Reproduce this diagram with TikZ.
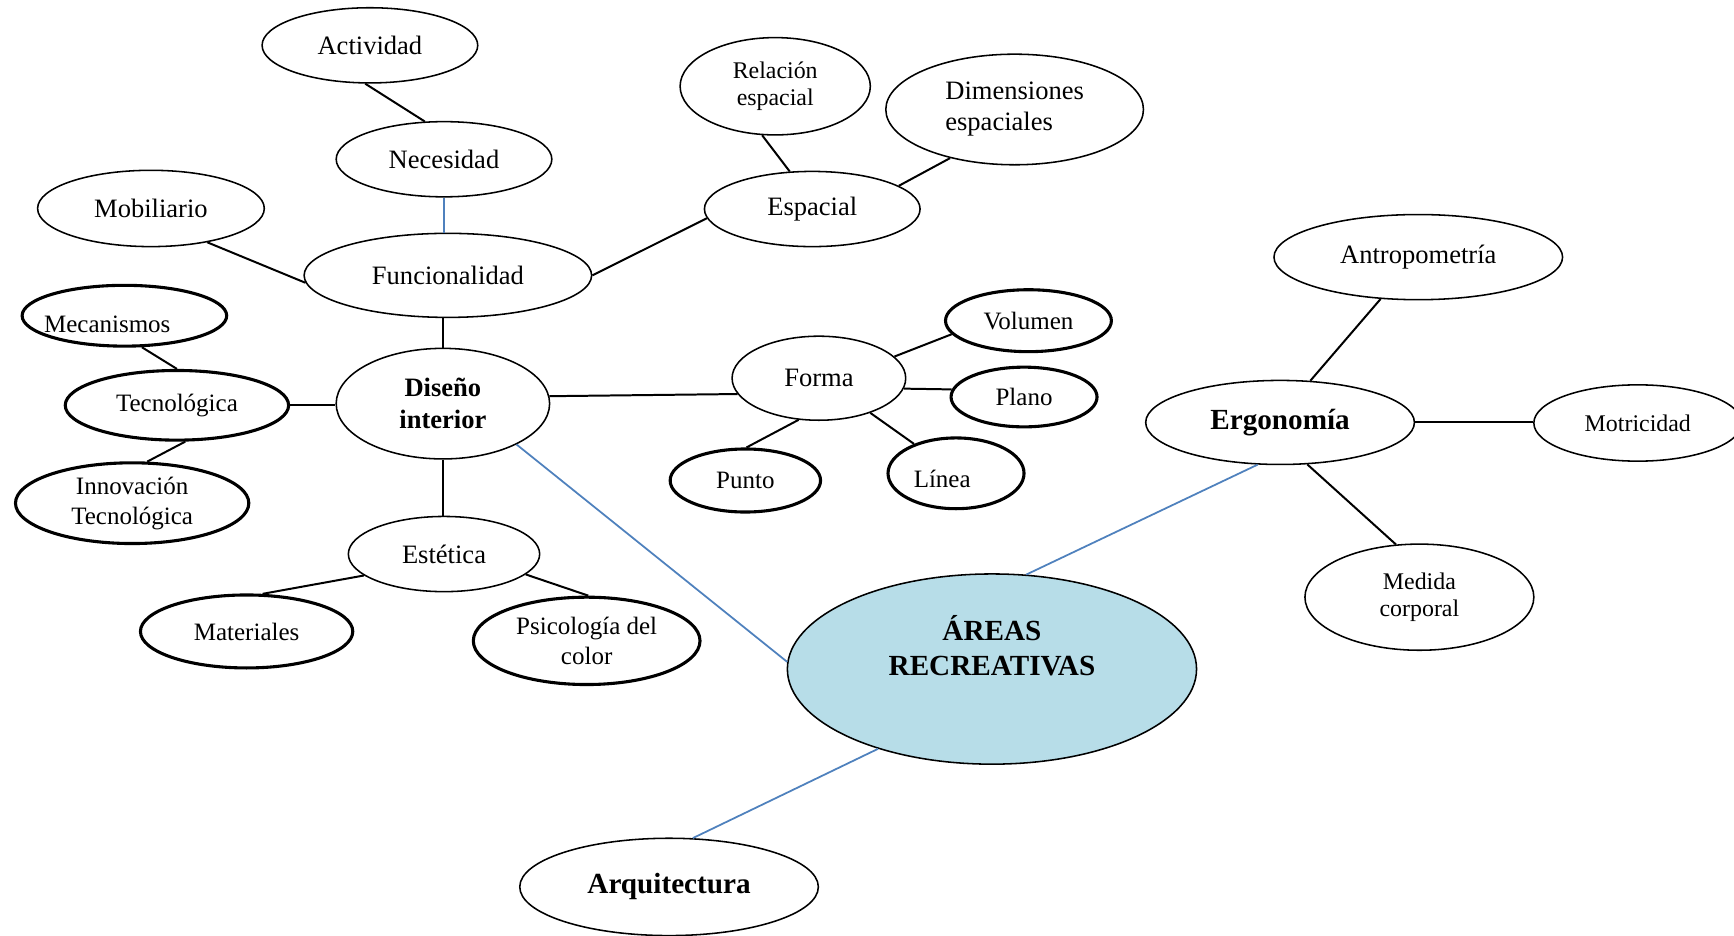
\documentclass[tikz,border=0pt]{standalone}
\usepackage{fontspec}
\setmainfont{Liberation Serif}
\usetikzlibrary{shapes.geometric}
\definecolor{azul}{RGB}{79,129,189}
\definecolor{celeste}{RGB}{183,221,232}

\begin{document}
\begin{tikzpicture}[
            x = 0.5pt, y = -0.5pt, % one unit = one pixel of the page, y downwards
            line width = 0.9pt, % line style
            every node/.style = {align = center, font = \fontsize{12}{14}\selectfont}
        ]

        \tikzstyle{concept}=[
            ellipse,
            draw,
            line width = 0.7pt,
            fill = white,
            inner sep = 0pt
        ]
        \tikzstyle{thick concept}=[concept, line width = 1.4pt, font = \fontsize{11.3}{13.5}\selectfont]
        \tikzstyle{small concept}=[concept, font = \fontsize{10.8}{12.5}\selectfont]
        \tikzstyle{title}=[font = \bfseries\fontsize{13.2}{15.5}\selectfont]
        \tikzstyle{link}=[draw, black]
        \tikzstyle{main link}=[draw, azul, line width = 0.8pt]

        \useasboundingbox (0,0) rectangle (1568,846);

        % centre
        \node[concept, fill = celeste, minimum width = 185pt, minimum height = 86pt] (AR) at (897,605) {};
        \node[title] (ART) at (897,584) {ÁREAS\\RECREATIVAS};
        \node[concept, title, minimum width = 135pt, minimum height = 44pt] (AQ) at (605,802) {Arquitectura};

        % interior design
        \node[concept, font = \bfseries\fontsize{12}{14.5}\selectfont,
              minimum width = 96.5pt, minimum height = 50pt] (DI) at (400.5,365) {Diseño\\interior};
        \node[concept, minimum width = 130pt, minimum height = 38pt] (FU) at (405,249) {Funcionalidad};
        \node[concept, minimum width = 97.5pt, minimum height = 34pt] (NE) at (401.5,144) {Necesidad};
        \node[concept, minimum width = 97.5pt, minimum height = 34pt] (AC) at (334.5,41) {Actividad};
        \node[concept, minimum width = 102.5pt, minimum height = 34.5pt] (MO) at (136.5,188.5) {Mobiliario};
        \node[concept, minimum width = 97.5pt, minimum height = 34pt] (ES) at (734.5,189) {Espacial};
        \node[small concept, minimum width = 86pt, minimum height = 44pt] (RE) at (701,78) {Relación\\espacial};
        \node[concept, align = left, minimum width = 116.5pt, minimum height = 50pt] (DE) at (917.5,99) {Dimensiones\\espaciales};

        \node[thick concept, minimum width = 92.5pt, minimum height = 27.5pt,
              label = {[xshift = -7.75pt, yshift = -3.75pt, font = \fontsize{11.3}{13.5}\selectfont]center:Mecanismos}] (ME) at (112.5,285.5) {};
        \node[thick concept, minimum width = 101pt, minimum height = 31.5pt] (TE) at (160,366.5) {Tecnológica};
        \node[thick concept, minimum width = 105.5pt, minimum height = 36.5pt] (IN) at (119.5,455) {Innovación\\Tecnológica};

        \node[concept, minimum width = 86.5pt, minimum height = 34pt] (ET) at (401.5,501) {Estética};
        \node[thick concept, minimum width = 96pt, minimum height = 33pt] (MA) at (223,571) {Materiales};
        \node[thick concept, minimum width = 102.5pt, minimum height = 39.5pt] (PS) at (530.5,579.5) {Psicología del\\color};

        \node[concept, minimum width = 78.5pt, minimum height = 38pt] (FO) at (740.5,342) {Forma};
        \node[thick concept, minimum width = 75pt, minimum height = 28pt] (VO) at (930,290) {Volumen};
        \node[thick concept, minimum width = 66pt, minimum height = 27pt] (PL) at (926,359) {Plano};
        \node[thick concept, minimum width = 68pt, minimum height = 28.5pt] (PU) at (674,434.5) {Punto};
        \node[thick concept, minimum width = 61.5pt, minimum height = 32pt,
              label = {[xshift = -6.25pt, yshift = -2.5pt, font = \fontsize{11.3}{13.5}\selectfont]center:Línea}] (LI) at (864.5,428) {};

        % ergonomics
        \node[concept, title, minimum width = 121.5pt, minimum height = 38pt] (ER) at (1157.5,382) {Ergonomía};
        \node[concept, minimum width = 130.5pt, minimum height = 38.5pt] (AN) at (1282.5,232.5) {Antropometría};
        \node[small concept, minimum width = 94pt, minimum height = 34.5pt] (MT) at (1481,382.5) {Motricidad};
        \node[small concept, minimum width = 103.5pt, minimum height = 48pt] (MD) at (1283.5,540) {Medida\\corporal};

        % links
        \path[main link] (DI.-29) -- (AR.178);
        \path[main link] (AR.70) -- (ER.-118);
        \path[main link] (AR.-145) -- (AQ.64);
        \path[main link] (NE.south) -- (NE.south |- FU.north);

        \path[link] (AC.-97) -- (NE.117);
        \path[link] (MO.-31) -- (FU.183);
        \path[link] (FU.east) -- (ES.185);
        \path[link] (DI.north |- FU.south) -- (DI.north);
        \path[link] (ES.121) -- (RE.-105);
        \path[link] (ES.15) -- (DE.-143);

        \path[link] (ME.-61) -- (TE.north);
        \path[link] (TE.east) -- (TE.east -| DI.west);
        \path[link] (TE.-77) -- (IN.70);

        \path[link] (DI.4) -- (FO.191);
        \path[link] (DI.south) -- (DI.south |- ET.north);
        \path[link] (ET.195) -- (MA.67);
        \path[link] (ET.-14) -- (PS.88);

        \path[link] (FO.16) -- (VO.190);
        \path[link] (FO.-7) -- (PL.174);
        \path[link] (FO.-116) -- (PU.88);
        \path[link] (FO.-34) -- (LI.145);

        \path[link] (ER.54) -- (AN.-132);
        \path[link] (ER.east) -- (ER.east -| MT.west);
        \path[link] (ER.-57) -- (MD.114);

\end{tikzpicture}
\end{document}
